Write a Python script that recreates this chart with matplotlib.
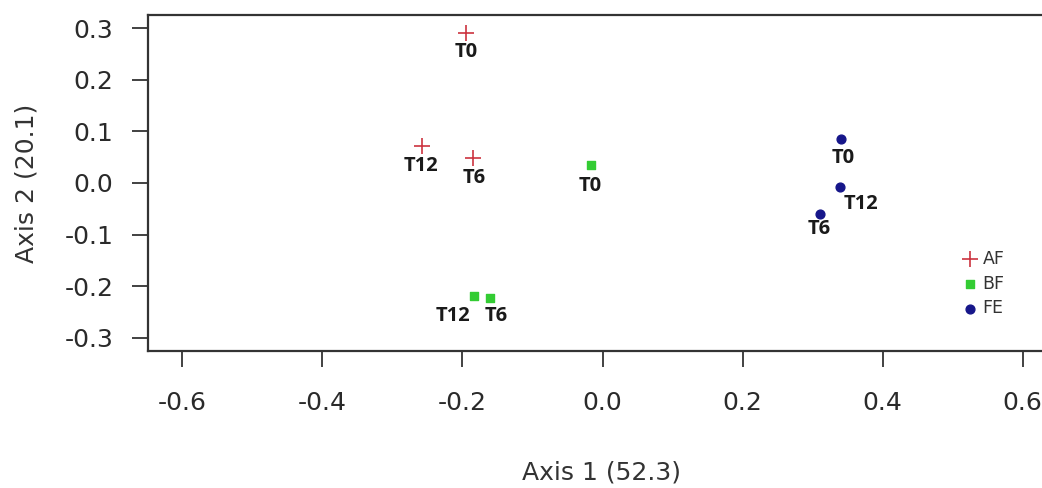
import matplotlib
matplotlib.use("Agg")
import matplotlib.pyplot as plt

# PCoA coordinates
groups = ["AF", "BF", "FE"]
times = ["T0", "T12", "T6"]
af_x = [-0.195, -0.258, -0.185]
af_y = [0.291, 0.072, 0.049]
bf_x = [-0.016, -0.183, -0.161]
bf_y = [0.035, -0.219, -0.223]
fe_x = [0.341, 0.339, 0.311]
fe_y = [0.085, -0.008, -0.060]
xticks = [-0.6, -0.4, -0.2, 0.0, 0.2, 0.4, 0.6]
yticks = [-0.3, -0.2, -0.1, 0.0, 0.1, 0.2, 0.3]

plt.rcParams['font.family'] = ['DejaVu Sans']

fig = plt.figure(figsize=(10.42, 4.88), dpi=100)
ax = fig.add_axes([148 / 1042, 137 / 488, 900 / 1042, 336 / 488])

ax.scatter(af_x, af_y, marker="+", s=120, color="#cc3340", linewidths=1.2, label="AF", zorder=3)
ax.scatter(bf_x, bf_y, marker="s", s=36, color="#33cc33", label="BF", zorder=3)
ax.scatter(fe_x, fe_y, marker="o", s=40, color="#16168a", label="FE", zorder=3)

# label offsets in pixels
offs = {
    "AF": [(0, -19), (-1, -20), (1, -20)],
    "BF": [(-1, -21), (-21, -20), (6, -18)],
    "FE": [(2, -19), (21, -17), (-1, -15)],
}
for g, xs, ys in [("AF", af_x, af_y), ("BF", bf_x, bf_y), ("FE", fe_x, fe_y)]:
    for t, x, y, o in zip(times, xs, ys, offs[g]):
        ax.annotate(t, (x, y), xytext=(o[0] * 0.72, o[1] * 0.72), textcoords="offset points",
                    ha="center", va="center", fontsize=14.5, fontweight="bold",
                    family="Open Sans", color="#1a1a1a")

ax.set_xlim(-0.649, 0.636)
ax.set_ylim(-0.326, 0.326)
ax.set_xticks(xticks)
ax.set_yticks(yticks)
ax.set_xticklabels(["%.1f" % v for v in xticks])
ax.set_yticklabels(["%.1f" % v for v in yticks])
ax.tick_params(axis="both", length=11.5, width=1.3, color="#333333", labelsize=18,
               labelcolor="#2a2a2a")
ax.tick_params(axis="x", pad=17)
ax.tick_params(axis="y", pad=13.5)
for s in ax.spines.values():
    s.set_color("#333333")
    s.set_linewidth(1.6)

ax.set_xlabel("Axis 1 (52.3)", fontsize=18, color="#333333")
ax.set_ylabel("Axis 2 (20.1)", fontsize=18, color="#333333")
ax.xaxis.set_label_coords(0.504, -0.325)
ax.yaxis.set_label_coords(-0.122, 0.5)

leg = ax.legend(loc="upper left", bbox_to_anchor=(959 / 1042, 1 - 250 / 488),
                bbox_transform=fig.transFigure, frameon=False, fontsize=12.5,
                handletextpad=0.05, labelspacing=0.38, handlelength=1.3,
                borderpad=0, borderaxespad=0)
for txt in leg.get_texts():
    txt.set_color("#333333")

fig.savefig("out.png", dpi=100)
